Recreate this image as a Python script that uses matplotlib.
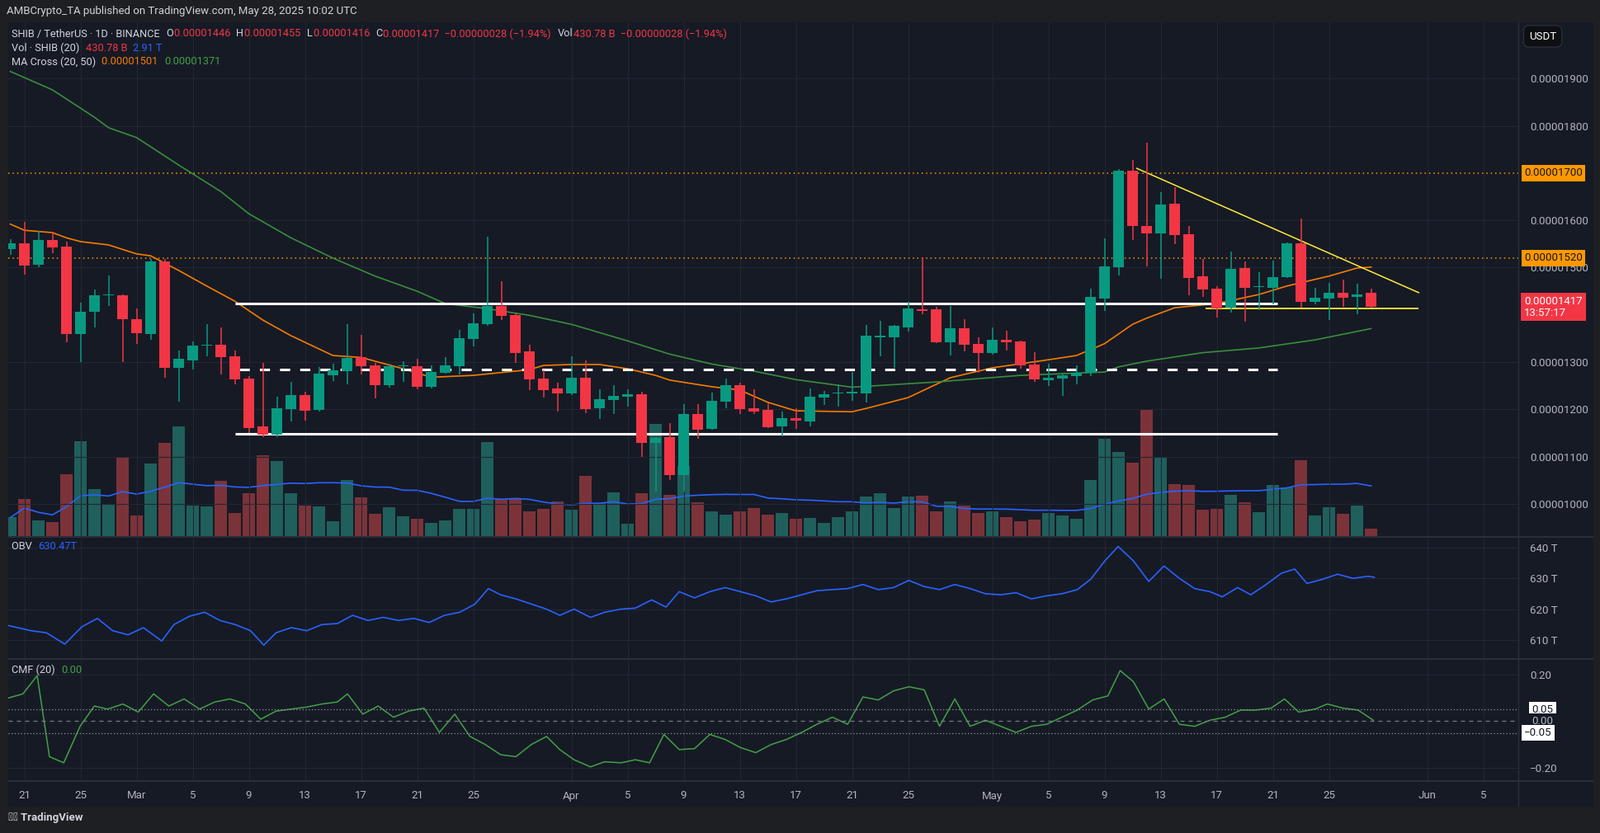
import matplotlib
matplotlib.use("Agg")
import matplotlib.pyplot as plt
import numpy as np
import pandas as pd

plt.rcParams["font.family"] = "Roboto"

BG = "#161a25"
GRID = "#232733"
TXT = "#b2b5be"
UP = "#089981"
DN = "#f23645"
VUP = "#1f5f5c"
VDN = "#7b3339"

# daily candles, Feb 20 .. May 28 2025 (prices in 1e-6 USDT)
opens = [15.39, 15.51, 15.06, 15.58, 15.45, 13.59, 14.07, 14.41, 14.41, 13.91,
         13.59, 15.13, 12.88, 13.04, 13.35, 13.37, 13.12, 12.65, 11.64, 11.47,
         12.01, 12.30, 11.99, 12.72, 12.81, 13.11, 12.93, 12.51, 12.91, 12.91,
         12.48, 12.77, 12.91, 13.49, 13.80, 14.19, 13.99, 13.23, 12.65, 12.44,
         12.34, 12.67, 12.03, 12.20, 12.26, 12.32, 11.29, 11.41, 10.61, 11.90,
         11.59, 12.16, 12.51, 12.03, 11.99, 11.64, 11.81, 11.74, 12.25, 12.33,
         12.34, 12.34, 13.53, 13.53, 13.74, 14.12, 14.12, 13.42, 13.71, 13.39,
         13.19, 13.47, 13.44, 12.95, 12.62, 12.65, 12.70, 12.78, 14.35, 15.01,
         17.05, 15.88, 15.72, 16.35, 15.71, 14.82, 14.56, 14.15, 14.99, 14.59,
         14.57, 14.80, 15.51, 14.27, 14.35, 14.46, 14.38, 14.46]
highs = [15.60, 15.97, 15.78, 15.76, 15.55, 14.26, 14.54, 14.83, 14.43, 14.14,
         15.18, 15.18, 13.25, 13.44, 13.80, 13.73, 13.25, 12.70, 12.98, 12.27,
         12.58, 12.37, 12.90, 12.97, 13.80, 13.58, 12.98, 12.97, 13.02, 13.07,
         12.93, 13.11, 13.68, 14.03, 15.65, 14.71, 14.03, 13.37, 12.83, 12.57,
         13.12, 13.04, 12.42, 12.51, 12.42, 12.37, 11.41, 11.71, 12.11, 12.11,
         12.36, 12.65, 12.56, 12.42, 12.13, 11.95, 12.02, 12.44, 12.39, 12.53,
         12.79, 13.79, 13.87, 13.79, 14.28, 15.22, 14.17, 14.19, 13.91, 13.52,
         13.73, 13.66, 13.46, 13.21, 12.97, 12.74, 12.93, 14.55, 15.62, 17.09,
         17.28, 17.64, 16.60, 16.70, 15.88, 15.18, 14.60, 15.34, 15.13, 14.90,
         15.15, 15.53, 16.04, 14.57, 14.68, 14.75, 14.66, 14.55]
lows = [15.27, 14.85, 15.00, 15.30, 13.42, 13.00, 13.73, 14.19, 13.00, 13.39,
        13.47, 12.67, 12.16, 12.84, 13.12, 12.74, 12.53, 11.50, 11.41, 11.41,
        11.74, 11.76, 11.95, 12.60, 12.53, 12.74, 12.23, 12.46, 12.58, 12.42,
        12.44, 12.76, 12.74, 13.33, 13.77, 13.89, 12.98, 12.41, 12.25, 11.95,
        12.30, 11.92, 11.80, 11.90, 12.06, 10.99, 10.26, 10.50, 10.26, 11.38,
        11.57, 12.02, 11.90, 11.90, 11.60, 11.43, 11.59, 11.64, 12.10, 12.06,
        12.18, 12.15, 13.12, 12.88, 13.65, 14.01, 13.40, 13.14, 13.23, 12.77,
        13.15, 13.25, 12.86, 12.58, 12.50, 12.29, 12.53, 12.70, 14.08, 14.84,
        15.58, 15.02, 14.76, 15.50, 14.41, 14.38, 13.94, 14.05, 13.86, 14.10,
        14.22, 14.78, 14.15, 14.22, 13.90, 14.17, 14.01, 14.16]
closes = [15.51, 15.04, 15.58, 15.43, 13.59, 14.07, 14.41, 14.42, 13.91, 13.61,
          15.13, 12.88, 13.07, 13.35, 13.37, 13.11, 12.63, 11.60, 11.47, 12.03,
          12.30, 11.97, 12.76, 12.82, 13.09, 12.91, 12.51, 12.91, 12.92, 12.48,
          12.79, 12.93, 13.51, 13.82, 14.19, 13.98, 13.19, 12.63, 12.41, 12.34,
          12.67, 12.00, 12.21, 12.29, 12.32, 11.29, 11.39, 10.61, 11.90, 11.57,
          12.18, 12.51, 12.01, 11.96, 11.62, 11.81, 11.76, 12.27, 12.32, 12.34,
          12.35, 13.56, 13.55, 13.77, 14.13, 14.08, 13.42, 13.71, 13.37, 13.19,
          13.47, 13.42, 12.93, 12.63, 12.67, 12.72, 12.78, 14.38, 15.03, 17.05,
          15.88, 15.72, 16.34, 15.69, 14.78, 14.54, 14.14, 14.97, 14.57, 14.60,
          14.80, 15.51, 14.27, 14.36, 14.47, 14.37, 14.43, 14.17]
# volume, billions SHIB
volume = [1081, 2178, 890, 795, 3609, 5517, 2751, 1844, 4611, 1177,
          4229, 5422, 6376, 1797, 1749, 3228, 1320, 2512, 4706, 4373,
          2512, 1797, 1749, 843, 3275, 2274, 1272, 1701, 1129, 986,
          747, 890, 1606, 1606, 5470, 2178, 2178, 1463, 1606, 2035,
          1558, 3514, 1940, 2560, 700, 2512, 6520, 2418, 4088, 1988,
          1431, 1224, 1463, 1654, 1224, 1367, 986, 1034, 747, 1081,
          1463, 2321, 2512, 1654, 2321, 2369, 1463, 2035, 1797, 1320,
          1463, 1081, 843, 938, 1320, 1177, 986, 3275, 5660, 4897,
          4277, 7378, 4563, 3037, 2989, 1558, 1606, 2417, 1988, 1415,
          2989, 2846, 4420, 1177, 1701, 1272, 1797, 431]

# MA cross lines (day index, price)
ma20_day = [0, 1, 3, 4, 5, 7, 9, 10, 12, 14, 16, 18, 20, 23, 25, 28, 30, 33, 37, 38,
            40, 42, 44, 46, 47, 50, 52, 54, 56, 60, 61, 64, 67, 70, 74, 76, 78, 80,
            81, 83, 86, 89, 91, 94, 96, 97]
ma20_val = [15.92, 15.79, 15.74, 15.63, 15.55, 15.48, 15.29, 15.25, 14.94, 14.61, 14.29,
            13.89, 13.56, 13.14, 13.10, 12.86, 12.68, 12.72, 12.84, 12.93, 12.95, 12.95,
            12.86, 12.72, 12.62, 12.48, 12.41, 12.15, 11.97, 11.95, 12.02, 12.25, 12.67,
            12.88, 13.05, 13.14, 13.39, 13.80, 13.93, 14.15, 14.24, 14.43, 14.61, 14.82,
            14.99, 15.01]
ma50_day = [0, 3, 6, 7, 9, 12, 15, 17, 20, 23, 26, 29, 31, 34, 37, 40, 44, 47, 50, 53,
            56, 60, 66, 72, 77, 78, 79, 81, 85, 89, 93, 97]
ma50_val = [19.15, 18.76, 18.18, 17.96, 17.75, 17.17, 16.61, 16.14, 15.63, 15.20, 14.82,
            14.50, 14.24, 14.13, 13.99, 13.80, 13.45, 13.17, 12.96, 12.81, 12.63, 12.47,
            12.58, 12.72, 12.78, 12.79, 12.90, 13.02, 13.20, 13.30, 13.47, 13.71]

obv_px = [8, 30, 45, 63, 80, 95, 110, 125, 140, 158, 170, 185, 200, 215, 230, 245, 258,
          270, 285, 300, 315, 330, 345, 360, 375, 390, 405, 420, 435, 450, 465, 478, 490,
          505, 520, 535, 548, 562, 578, 592, 608, 622, 638, 652, 665, 680, 695, 710, 725,
          740, 755, 770, 785, 800, 815, 830, 845, 860, 875, 890, 905, 920, 935, 950, 965,
          980, 995, 1010, 1025, 1040, 1055, 1068, 1082, 1095, 1110, 1125, 1140, 1155, 1170,
          1185, 1197, 1212, 1225, 1240, 1255, 1268, 1280, 1295, 1310, 1325, 1340, 1346]
obv_y = [613, 618, 620, 631, 614, 606, 618, 622, 615, 628, 612, 604, 600, 608, 612, 618,
         632, 620, 615, 618, 612, 611, 603, 608, 605, 608, 606, 610, 603, 600, 592, 577,
         583, 587, 592, 597, 603, 597, 605, 600, 597, 596, 588, 595, 580, 586, 580, 576,
         580, 584, 590, 587, 583, 579, 578, 577, 573, 578, 576, 569, 575, 578, 573, 577,
         582, 583, 581, 587, 584, 582, 578, 568, 550, 536, 550, 570, 555, 567, 577, 580,
         585, 576, 583, 573, 562, 558, 572, 568, 563, 567, 565, 566]
cmf_px = [8, 22, 36, 48, 62, 78, 92, 105, 120, 135, 150, 165, 180, 195, 210, 225, 240, 255,
          270, 285, 300, 315, 330, 340, 355, 370, 385, 400, 415, 430, 445, 460, 475, 490,
          505, 520, 535, 548, 562, 578, 592, 608, 622, 636, 650, 665, 680, 695, 710, 725,
          740, 755, 770, 785, 800, 815, 830, 845, 860, 875, 890, 905, 920, 935, 950, 965,
          980, 995, 1010, 1025, 1040, 1055, 1070, 1085, 1097, 1110, 1125, 1140, 1155, 1170,
          1185, 1200, 1215, 1230, 1245, 1258, 1272, 1288, 1300, 1315, 1330, 1345]
cmf_y = [684, 680, 662, 742, 748, 712, 692, 695, 690, 698, 680, 692, 685, 695, 688, 685,
         690, 705, 697, 695, 693, 690, 688, 680, 700, 692, 703, 697, 694, 718, 700, 722,
         730, 740, 742, 730, 722, 735, 745, 752, 747, 748, 745, 748, 720, 735, 734, 720,
         725, 733, 738, 730, 725, 718, 710, 703, 710, 683, 686, 677, 673, 676, 712, 685,
         712, 706, 712, 718, 712, 710, 703, 696, 686, 682, 657, 668, 695, 685, 710, 712,
         706, 703, 696, 696, 694, 685, 698, 695, 690, 694, 696, 706]

obv_day = [(1.237 * x - 12) / 17 for x in obv_px]
obv_val = [640 - (y - 537) / 3.0 for y in obv_y]
cmf_day = [(1.237 * x - 12) / 17 for x in cmf_px]
cmf_val = [(707 - y) / 230 for y in cmf_y]

date_ticks = [1, 5, 9, 13, 17, 21, 25, 29, 33, 40, 44, 48, 52, 56, 60, 64, 70, 74, 78, 82,
              86, 90, 94, 101, 105]
date_labels = ["21", "25", "Mar", "5", "9", "13", "17", "21", "25", "Apr", "5", "9", "13",
               "17", "21", "25", "May", "5", "9", "13", "17", "21", "25", "Jun", "5"]
price_ticks = [10, 11, 12, 13, 15, 16, 18, 19]

W, H = 1940, 1010
fig = plt.figure(figsize=(W / 100, H / 100), dpi=100)
fig.patch.set_facecolor("#1e1f22")


def add_ax(top, bottom):
    a = fig.add_axes([10 / W, 1 - bottom / H, 1830 / W, (bottom - top) / H])
    a.set_facecolor(BG)
    for s in a.spines.values():
        s.set_visible(False)
    a.set_xlim(-0.15, 107.5)
    a.set_xticks(date_ticks)
    a.yaxis.tick_right()
    a.tick_params(length=0, labelbottom=False, labelleft=False, labelright=True,
                  colors=TXT, labelsize=9.5, pad=10)
    a.grid(True, color=GRID, lw=0.8)
    a.set_axisbelow(True)
    return a


# backgrounds for chart block and axis column
fig.patches.append(plt.Rectangle((10 / W, 1 - 977 / H), 1920 / W, 950 / H,
                                 transform=fig.transFigure, color=BG, zorder=-5))

ax = add_ax(27, 650)
n = len(closes)
days = np.arange(n)
o, h, l, c = map(np.array, (opens, highs, lows, closes))
up = c >= o
cols = np.where(up, UP, DN)

axv = ax.twinx()
axv.set_xlim(-0.15, 107.5)
axv.set_ylim(0, 29900)
axv.axis("off")
axv.bar(days, volume, width=0.92, color=np.where(up, VUP, VDN), zorder=1)
vma = pd.Series(volume).rolling(20, min_periods=1).mean()
axv.plot(days, vma, color="#2962ff", lw=1.2, zorder=2)
ax.set_zorder(axv.get_zorder() + 1)
ax.patch.set_visible(False)
ax.yaxis.tick_right()
ax.tick_params(axis="y", length=0, labelleft=False, labelright=True, colors=TXT,
               labelsize=9.5, pad=10)

ax.set_ylim(9.32, 20.19)
ax.set_yticks(price_ticks)
ax.set_yticklabels([f"0.0000{int(t * 100):04d}" for t in price_ticks])
ax.vlines(days, l, h, color=cols, lw=1.1, zorder=4)
body = np.maximum(np.abs(c - o), 0.025)
ax.bar(days, body, bottom=np.minimum(o, c), width=0.72, color=cols, zorder=5)

ax.plot(ma20_day, ma20_val, color="#f57c00", lw=1.2, zorder=3)
ax.plot(ma50_day, ma50_val, color="#388e3c", lw=1.2, zorder=3)

for lvl in (17.0, 15.2):
    ax.axhline(lvl, color="#ff9800", lw=1.1, ls=(0, (1, 2.5)), zorder=2)
ax.hlines([14.24, 11.48], 16, 90.3, color="white", lw=2.2, zorder=3)
ax.hlines(12.84, 16.3, 90.3, color="white", lw=2.2, ls=(0, (4, 4)), zorder=3)
ax.plot([80.3, 100.4], [17.1, 14.47], color="#ffeb3b", lw=1.1, zorder=3)
ax.hlines(14.13, 85.2, 100.4, color="#ffeb3b", lw=1.3, zorder=3)


def tag(a, y, text, fc, tc, x=1.004):
    a.text(x, y, text, transform=a.get_yaxis_transform(), fontsize=9.5, color=tc,
           va="center", ha="left", zorder=10,
           bbox=dict(boxstyle="square,pad=0.25", fc=fc, ec="none"), clip_on=False)


tag(ax, 17.0, "0.00001700", "#ff9800", "#131722")
tag(ax, 15.2, "0.00001520", "#ff9800", "#131722")
ax.text(1.004, 14.17, "0.00001417\n13:57:17", transform=ax.get_yaxis_transform(),
        fontsize=9.5, color="white", va="center", ha="left", linespacing=1.1,
        bbox=dict(boxstyle="square,pad=0.3", fc=DN, ec="none"), clip_on=False, zorder=10)
fig.text(1853 / W, 1 - 44 / H, "USDT", color="white", fontsize=9.5, va="center",
         bbox=dict(boxstyle="round,pad=0.5", fc="#0e0f12", ec="#2a2e39"))

# OBV pane
ax2 = add_ax(653, 798)
ax2.plot(obv_day, obv_val, color="#2962ff", lw=1.2)
ax2.set_ylim(604.1, 642.9)
ax2.set_yticks([610, 620, 630, 640])
ax2.set_yticklabels(["610 T", "620 T", "630 T", "640 T"])

# CMF pane
ax3 = add_ax(801, 946)
ax3.plot(cmf_day, cmf_val, color="#43a047", lw=1.1)
ax3.set_ylim(-0.253, 0.26)
ax3.set_yticks([-0.2, 0.2])
ax3.set_yticklabels(["\u22120.20", "0.20"])
for v in (0.05, -0.05):
    ax3.axhline(v, color="#9598a1", lw=0.9, ls=(0, (1, 2)))
ax3.axhline(0, color="#787b86", lw=0.9, ls=(0, (4, 4)))
tag(ax3, 0.05, "0.05", "white", "#131722", x=1.009)
tag(ax3, 0.0, "0.00", BG, TXT, x=1.009)
tag(ax3, -0.05, "\u22120.05", "white", "#131722", x=1.004)
ax3.tick_params(labelbottom=True)
ax3.tick_params(axis="x", pad=9)
ax3.set_xticklabels(date_labels)

for yy in (651, 799, 947):
    fig.add_artist(plt.Line2D([10 / W, 1930 / W], [1 - yy / H] * 2, color="#2a2e39", lw=1.5))
fig.add_artist(plt.Line2D([1840 / W] * 2, [1 - 977 / H, 1 - 27 / H], color="#2a2e39", lw=1))

# legend texts


def seq(x, y, parts, size=9.2):
    r = fig.canvas.get_renderer()
    for s, col in parts:
        t = fig.text(x / W, 1 - y / H, s, color=col, fontsize=size, va="center")
        x += t.get_window_extent(r).width + 1


fig.text(8 / W, 1 - 14 / H, "AMBCrypto_TA published on TradingView.com, May 28, 2025 10:02 UTC",
         color="#d1d4dc", fontsize=9.5, va="center")
seq(14, 41, [("SHIB / TetherUS \u00b7 1D \u00b7 BINANCE  ", "#d1d4dc"), ("O", "#d1d4dc"),
             ("0.00001446  ", DN), ("H", "#d1d4dc"), ("0.00001455  ", DN), ("L", "#d1d4dc"),
             ("0.00001416  ", DN), ("C", "#d1d4dc"), ("0.00001417  \u22120.00000028 (\u22121.94%)  ", DN),
             ("Vol", "#d1d4dc"), ("430.78 B  \u22120.00000028 (\u22121.94%)", DN)])
seq(14, 58, [("Vol \u00b7 SHIB (20)  ", "#d1d4dc"), ("430.78 B  ", DN), ("2.91 T", "#2962ff")])
seq(14, 75, [("MA Cross (20, 50)  ", "#d1d4dc"), ("0.00001501  ", "#f57c00"), ("0.00001371", "#43a047")])
seq(14, 662, [("OBV  ", "#d1d4dc"), ("630.47T", "#2962ff")])
seq(14, 812, [("CMF (20)  ", "#d1d4dc"), ("0.00", "#43a047")])
fig.text(10 / W, 1 - 992 / H, "\u25e3\u25cf TradingView", color="#d1d4dc", fontsize=9.5,
         va="center", fontweight="bold")

fig.savefig("out.png", dpi=100, facecolor=fig.get_facecolor())
